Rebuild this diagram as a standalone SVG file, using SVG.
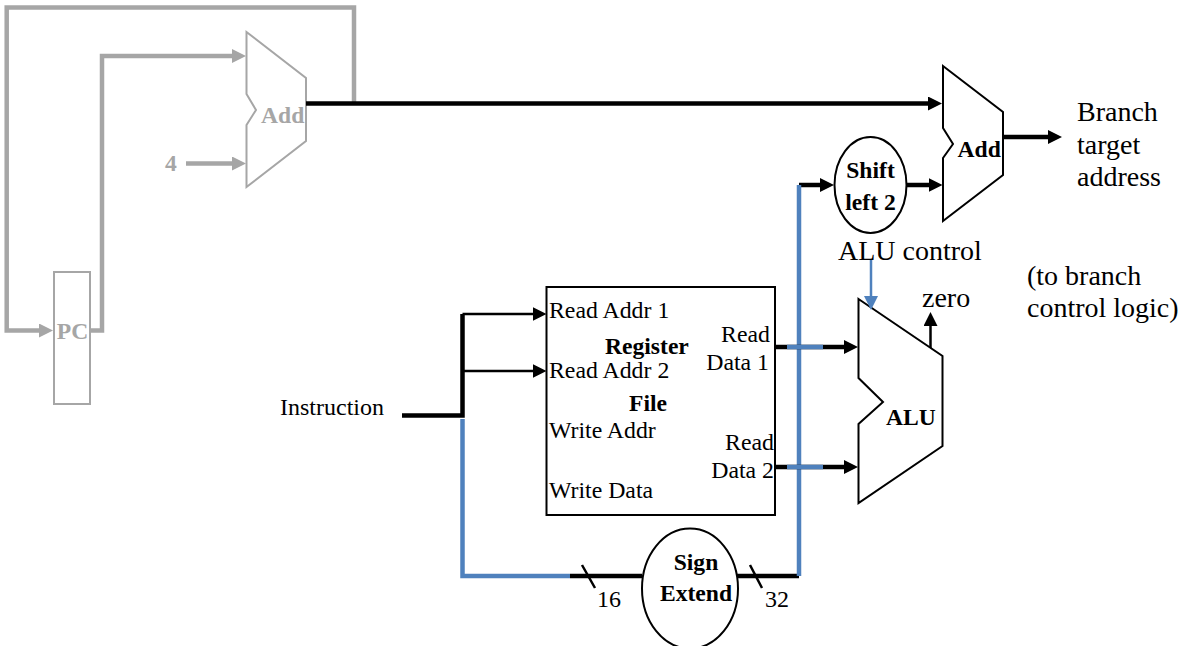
<svg xmlns="http://www.w3.org/2000/svg" width="1186" height="646" viewBox="0 0 1186 646">
<style>
text{font-family:"Liberation Serif","Times New Roman",serif;fill:#000}
.l{font-size:24px}.s{font-size:23.800px}.b{font-size:23.600px;font-weight:bold}.big{font-size:28px}
text.g{fill:#a6a6a6}
.m{text-anchor:middle}
.shape{fill:#fff;stroke:#000;stroke-width:2}
.gshape{fill:#fff;stroke:#a6a6a6;stroke-width:2}
.w{fill:none;stroke:#000;stroke-width:4.500}
.t{fill:none;stroke:#000;stroke-width:2.500}
.gw{fill:none;stroke:#a6a6a6;stroke-width:4.500}
.bw{fill:none;stroke:#4f81bd;stroke-width:4.500}
</style>
<defs>
<marker id="ak" markerUnits="userSpaceOnUse" markerWidth="14" markerHeight="14" refX="7" refY="7" orient="auto"><path d="M0 0L14 7L0 14Z" fill="#000"/></marker>
<marker id="ag" markerUnits="userSpaceOnUse" markerWidth="14" markerHeight="14" refX="7" refY="7" orient="auto"><path d="M0 0L14 7L0 14Z" fill="#a6a6a6"/></marker>
<marker id="ab" markerUnits="userSpaceOnUse" markerWidth="14" markerHeight="14" refX="7" refY="7" orient="auto"><path d="M0 0L14 7L0 14Z" fill="#4f81bd"/></marker>
</defs>
<g id="pc"><rect class="gshape" x="54" y="272" width="36" height="132"/><text class="b g m" x="72.500" y="339">PC</text></g>
<g id="add-pc"><path class="gshape" d="M246.500 32L306 78V141L246.500 187V125L256 110L246.500 94Z"/><text class="b g" x="261" y="123">Add</text></g>
<g id="add-branch"><path class="shape" d="M943 66L1003 112V175L943 221V158L953 144L943 128Z"/><text class="b" x="957.500" y="157">Add</text></g>
<g id="shift"><ellipse class="shape" cx="870.500" cy="185" rx="36" ry="48"/><text class="b m" x="870.500" y="178">Shift</text><text class="b m" x="870.500" y="210">left 2</text></g>
<g id="alu"><path class="shape" d="M858.500 299L942.500 356V446L858.500 503V424L883 402L858.500 378Z"/><text class="b" x="886" y="424.500">ALU</text></g>
<g id="regfile"><rect class="shape" x="546.500" y="287" width="228.500" height="228"/>
<text class="s" x="549" y="318">Read Addr 1</text><text class="s" x="549" y="378">Read Addr 2</text><text class="s" x="549" y="438">Write Addr</text><text class="s" x="549" y="498">Write Data</text>
<text class="b" x="605" y="354">Register</text><text class="b" x="629" y="411">File</text>
<text class="s" x="770" y="342" text-anchor="end">Read</text><text class="s" x="769" y="370" text-anchor="end">Data 1</text><text class="s" x="774" y="450" text-anchor="end">Read</text><text class="s" x="774" y="478" text-anchor="end">Data 2</text></g>
<g id="sign"><ellipse class="shape" cx="690" cy="588.500" rx="48" ry="60"/><text class="b m" x="696" y="570">Sign</text><text class="b m" x="696" y="601">Extend</text></g>
<g id="connectors">
<path class="gw" d="M354 103.500V7.500H6.700V330.500H46" marker-end="url(#ag)"/>
<path class="gw" d="M91 330.500H102V56H239" marker-end="url(#ag)"/>
<path class="gw" d="M186 163.500H239" marker-end="url(#ag)"/>
<path class="w" d="M306 103.500H935" marker-end="url(#ak)"/>
<path class="w" d="M1003 137H1055" marker-end="url(#ak)"/>
<path class="w" d="M799 185H827" marker-end="url(#ak)"/>
<path class="w" d="M907 185H935.500" marker-end="url(#ak)"/>
<path class="w" d="M402 415.500H462.500V314"/>
<path class="t" d="M462.500 314H539.500" marker-end="url(#ak)"/>
<path class="t" d="M462.500 371H539.500" marker-end="url(#ak)"/>
<path class="bw" d="M462.500 419V576H570"/>
<path class="w" d="M570 576H642"/>
<path class="w" d="M737 576H799"/>
<path class="bw" d="M799 576V185"/>
<path class="w" d="M775 347H851" marker-end="url(#ak)"/>
<path class="w" d="M775 467H851" marker-end="url(#ak)"/>
<path class="bw" d="M787 347H823M787 467H823"/>
<path class="t" d="M930.500 348V319" marker-end="url(#ak)"/>
<path fill="none" stroke="#4f81bd" stroke-width="2.500" d="M871 260V303" marker-end="url(#ab)"/>
<path class="t" d="M582 565L595 588M750 565L762 588"/>
</g>
<g id="labels">
<text class="b g" x="165" y="171">4</text>
<text class="l" x="280" y="415">Instruction</text>
<text class="big" x="1077" y="121">Branch</text><text class="big" x="1077" y="154">target</text><text class="big" x="1077" y="186">address</text>
<text class="big" x="838" y="260">ALU control</text>
<text class="big" x="1027" y="285">(to branch</text><text class="big" x="1027" y="317">control logic)</text>
<text class="big" x="922" y="307">zero</text>
<text class="l" x="597" y="607">16</text><text class="l" x="765" y="607">32</text>
</g>
</svg>
